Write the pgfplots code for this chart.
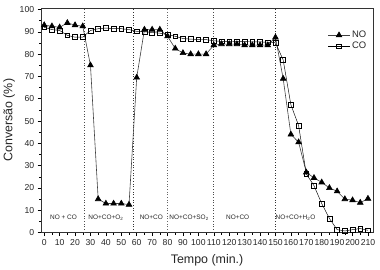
\documentclass[border=0pt]{standalone}
\usepackage{fontspec}
\setmainfont{Liberation Sans}
\usepackage{pgfplots}
\pgfplotsset{compat=1.18}
\begin{document}
\begin{tikzpicture}
\begin{axis}[
  scale only axis,
  width=334pt, height=226pt,
  xmin=-2, xmax=213.3, ymin=0, ymax=100.7,
  xtick={0,10,...,210}, ytick={0,10,...,100},
  minor x tick num=1, minor y tick num=1,
  tick align=outside, tick pos=left,
  major tick length=3.5pt, minor tick length=2pt,
  tick style={black, line width=0.5pt},
  /pgf/number format/assume math mode=true,
  tick label style={font=\fontsize{8.7}{9}\selectfont, text=black!85},
  xlabel={Tempo (min.)}, ylabel={Conversão (\%)},
  label style={font=\fontsize{12.5}{13}\selectfont, text=black!85},
  xlabel style={yshift=-2pt},
  ylabel style={yshift=-2pt},
  axis line style={black!80, line width=0.6pt},
  legend style={draw=none, fill=none, at={(0.995,0.915)}, anchor=north east,
    font=\fontsize{9.5}{10}\selectfont, row sep=-1pt, text=black!85},
  legend cell align=left,
  legend image code/.code={\draw[mark repeat=2,mark phase=2] plot coordinates {(0cm,0cm) (0.38cm,0cm) (0.76cm,0cm)};},
]
\addplot[black!70, dotted, line width=0.7pt, forget plot] coordinates {(26,0) (26,100.7)};
\addplot[black!80, dotted, line width=0.7pt, forget plot] coordinates {(58,0) (58,100.7)};
\addplot[black!60, dotted, line width=0.7pt, forget plot] coordinates {(80,0) (80,100.7)};
\addplot[black!70, dotted, line width=0.7pt, forget plot] coordinates {(110,0) (110,100.7)};
\addplot[black!80, dotted, line width=0.7pt, forget plot] coordinates {(150,0) (150,100.7)};

\addplot[black!75, line width=0.6pt, mark=triangle*, mark size=3.3pt,
  mark options={solid, fill=black, draw=black}] coordinates {
(0,93) (5,92.5) (10,92) (15,94) (20,93) (25,92.5) (30,75)
(35,15) (40,13) (45,13) (50,13) (55,12.5)
(60,69.5) (65,91) (70,91) (75,91) (80,88) (85,82.5)
(90,80.5) (95,80) (100,80) (105,80)
(110,84) (115,84.5) (120,84.5) (125,84.5) (130,84) (135,84) (140,84) (145,84)
(150,87.5) (155,69) (160,44) (165,40.5) (170,27) (175,24.5) (180,22.5)
(185,20) (190,18.5) (195,15) (200,14.5) (205,13.4) (210,15.2)
};
\addlegendentry{NO}
\addplot[black, line width=0.45pt, mark=square, mark size=2.4pt,
  mark options={solid, fill=white, draw=black, line width=0.6pt}] coordinates {
(0,92) (5,91) (10,90.6) (15,88.4) (20,87.6) (25,87.6) (30,90.6)
(35,91.4) (40,91.7) (45,91.4) (50,91.4) (55,91) (60,90.2) (65,90)
(70,89.7) (75,89.4) (80,88.7) (85,88) (90,87) (95,86.7) (100,86.6) (105,86.5)
(110,86) (115,85.7) (120,85.7) (125,85.6) (130,85.6) (135,85.5) (140,85.5) (145,85.3)
(150,85.1) (155,77.4) (160,57.3) (165,48) (170,26.3) (175,21) (180,13)
(185,6.3) (190,1.3) (195,0.7) (200,1.3) (205,1.8) (210,1)
};
\addlegendentry{CO}

\begin{scope}[every node/.style={font=\fontsize{6.5}{7}\selectfont, text=black!85}]
\node at (axis cs:12.5,6.7) {NO + CO};
\node at (axis cs:40,6.7) {NO+CO+O\textsubscript{2}};
\node at (axis cs:69.5,6.7) {NO+CO};
\node at (axis cs:94,6.7) {NO+CO+SO\textsubscript{2}};
\node at (axis cs:125.5,6.7) {NO+CO};
\node at (axis cs:163,6.7) {NO+CO+H\textsubscript{2}O};
\end{scope}
\end{axis}
\path (current axis.north east) ++(7pt,8pt);
\end{tikzpicture}
\end{document}
